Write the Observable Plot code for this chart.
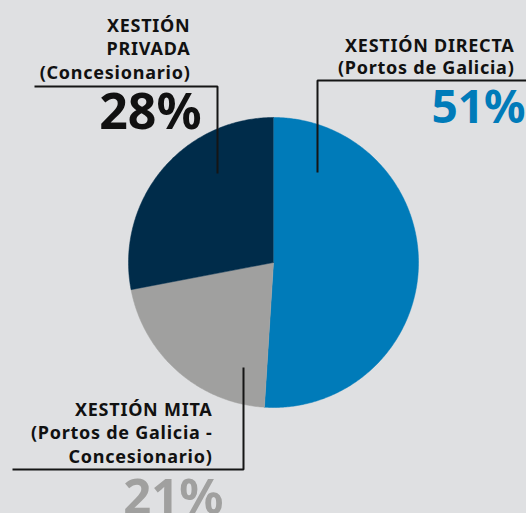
<!DOCTYPE html>
<html><head><meta charset="utf-8">
<script src="https://cdn.jsdelivr.net/npm/d3@7"></script>
<script src="https://cdn.jsdelivr.net/npm/@observablehq/plot@0.6"></script>
<style>html,body{margin:0;padding:0;background:#dfe0e2;} .lbl text{letter-spacing:0.75px;}</style>
</head><body><div id="chart"></div>
<script>
const categories = ["XESTIÓN DIRECTA", "XESTIÓN MITA", "XESTIÓN PRIVADA"];
const values = [51, 21, 28];
const labels = ["XESTIÓN DIRECTA\n(Portos de Galicia)", "XESTIÓN MITA\n(Portos de Galicia -\nConcesionario)", "XESTIÓN\nPRIVADA\n(Concesionario)"];
const pctLabels = ["51%", "21%", "28%"];
const colors = ["#007bb9", "#a0a09f", "#002c4a"];
const pctColors = ["#007bb9", "#a0a09f", "#111111"];

const W = 526, H = 513;
const cx = 273, cy = 262, R = 145;

const arcs = d3.pie().sort(null)(values);
const piePts = [];
arcs.forEach((a, i) => {
  piePts.push({cat: categories[i], x: cx, y: cy});
  const n = Math.max(2, Math.ceil((a.endAngle - a.startAngle) / 0.01));
  for (let k = 0; k <= n; k++) {
    const t = a.startAngle + (a.endAngle - a.startAngle) * k / n;
    piePts.push({cat: categories[i], x: cx + R * Math.sin(t), y: cy - R * Math.cos(t)});
  }
});

// leader lines (layout)
const leaders = [
  {id: 0, x: 526, y: 80}, {id: 0, x: 317, y: 80}, {id: 0, x: 317, y: 172},
  {id: 1, x: 243, y: 367}, {id: 1, x: 243, y: 469}, {id: 1, x: 12, y: 469},
  {id: 2, x: 34, y: 86}, {id: 2, x: 217, y: 86}, {id: 2, x: 217, y: 173}
];
const labelPos = [
  {x: 514, y: 73, lh: 1.22},
  {x: 212, y: 462, lh: 1.3},
  {x: 190, y: 78, lh: 1.28}
];
const pctPos = [
  {x: 525, y: 122, size: 46},
  {x: 223, y: 513, size: 49},
  {x: 201, y: 128, size: 50}
];

const labelData = categories.map((c, i) => ({text: labels[i], ...labelPos[i]}));
const pctData = categories.map((c, i) => ({text: pctLabels[i], color: pctColors[i], ...pctPos[i]}));

const font = "Noto Sans, DejaVu Sans, sans-serif";
const chart = Plot.plot({
  width: W, height: H, margin: 0,
  x: {domain: [0, W], range: [0, W], axis: null},
  y: {domain: [0, H], range: [0, H], axis: null},
  color: {domain: categories, range: colors},
  style: {background: "transparent", fontFamily: font},
  marks: [
    Plot.line(piePts, {x: "x", y: "y", z: "cat", fill: "cat", stroke: "cat", strokeWidth: 0.5, curve: "linear"}),
    Plot.line(leaders, {x: "x", y: "y", z: "id", stroke: "#151515", strokeWidth: 2, strokeLinejoin: "miter", strokeLinecap: "butt"}),
    ...labelData.map(d => Plot.text([d], {x: "x", y: "y", text: "text", textAnchor: "end", lineAnchor: "bottom", lineHeight: d.lh, fontSize: 18, fontWeight: 700, fill: "#111", className: "lbl"})),
    ...pctData.map(d => Plot.text([d], {x: "x", y: "y", text: "text", textAnchor: "end", lineAnchor: "bottom", fontSize: d.size, fontWeight: 700, fill: d.color}))
  ]
});
document.getElementById("chart").appendChild(chart);
</script>
</body></html>
